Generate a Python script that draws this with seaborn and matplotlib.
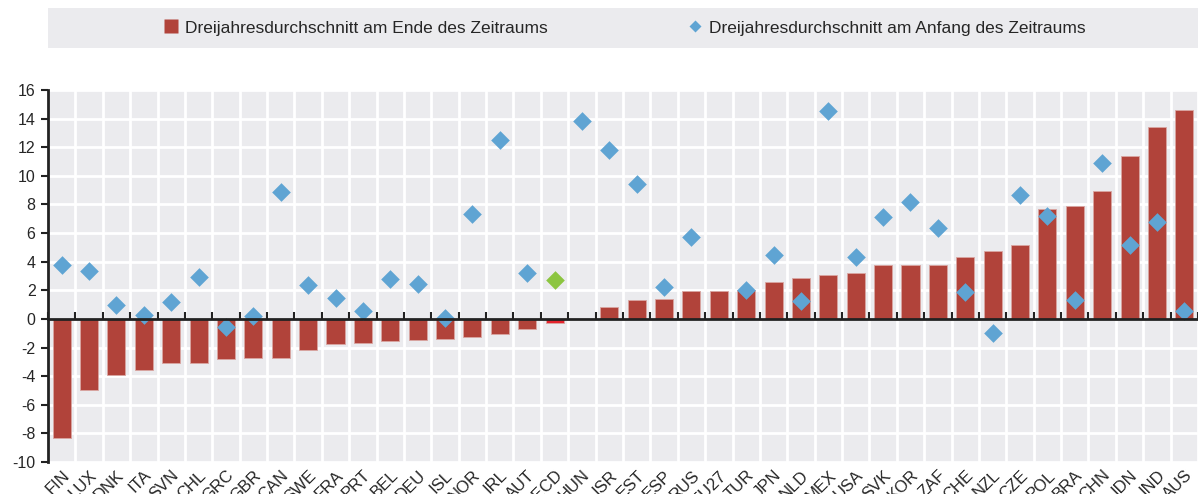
import matplotlib
matplotlib.use("Agg")
import matplotlib.pyplot as plt
import matplotlib.transforms as mtransforms
from matplotlib.patches import Rectangle
from matplotlib.lines import Line2D
import numpy as np
import pandas as pd
import seaborn as sns

countries = ["FIN", "LUX", "DNK", "ITA", "SVN", "CHL", "GRC", "GBR", "CAN", "SWE",
             "FRA", "PRT", "BEL", "DEU", "ISL", "NOR", "IRL", "AUT", "OECD", "HUN",
             "ISR", "EST", "ESP", "RUS", "EU27", "TUR", "JPN", "NLD", "MEX", "USA",
             "SVK", "KOR", "ZAF", "CHE", "NZL", "CZE", "POL", "BRA", "CHN", "IDN",
             "IND", "AUS"]

end_avg = [-8.3, -5.0, -3.9, -3.6, -3.1, -3.1, -2.8, -2.7, -2.7, -2.2,
           -1.75, -1.7, -1.55, -1.45, -1.4, -1.25, -1.05, -0.7, -0.25, np.nan,
           0.8, 1.3, 1.4, 1.95, 1.95, 2.0, 2.55, 2.85, 3.1, 3.2,
           3.75, 3.8, 3.8, 4.35, 4.75, 5.2, 7.7, 7.9, 8.95, 11.4,
           13.4, 14.6]

start_avg = [3.8, 3.35, 1.0, 0.3, 1.2, 2.9, -0.55, 0.2, 8.9, 2.4,
             1.45, 0.55, 2.8, 2.45, 0.05, 7.3, 12.5, 3.2, 2.7, 13.8,
             11.8, 9.45, 2.2, 5.7, np.nan, 2.0, 4.45, 1.25, 14.5, 4.35,
             7.15, 8.2, 6.35, 1.85, -1.0, 8.65, 7.2, 1.35, 10.9, 5.2,
             6.8, 0.55]

legend_labels = ["Dreijahresdurchschnitt am Ende des Zeitraums",
                 "Dreijahresdurchschnitt am Anfang des Zeitraums"]

BAR = "#b1433a"
BAR_OECD = "#e4232d"
DIAMOND = "#5fa4d3"
DIAMOND_OECD = "#8cc540"
BG = "#ebebee"

df = pd.DataFrame({"country": countries, "end": end_avg, "start": start_avg})
df["is_oecd"] = df["country"] == "OECD"

sns.set_theme(style="white")
plt.rcParams["font.family"] = ["Liberation Sans", "DejaVu Sans"]
plt.rcParams["axes.unicode_minus"] = False

fig = plt.figure(figsize=(11.98, 4.94), dpi=100)
ax = fig.add_axes([48 / 1198, 1 - 462 / 494, 1 - 48 / 1198, (462 - 90) / 494])
ax.set_facecolor(BG)

sns.barplot(data=df, x="country", y="end", hue="country", order=countries,
            palette=[BAR_OECD if c == "OECD" else BAR for c in countries],
            saturation=1, width=0.66, legend=False, ax=ax, zorder=3,
            edgecolor="#d9a6a2", linewidth=0.6)
sns.stripplot(data=df, x="country", y="start", hue="is_oecd", order=countries,
              palette={False: DIAMOND, True: DIAMOND_OECD}, jitter=False,
              marker="D", size=9.5, linewidth=0, legend=False, ax=ax, zorder=4)

n = len(countries)
ax.set_xlim(-0.5, n - 0.5)
ax.set_ylim(-10, 16)
ax.set_yticks(np.arange(-10, 17, 2))
ax.set_xticks(np.arange(n))
ax.set_xticklabels(countries, rotation=45, ha="right", rotation_mode="anchor",
                   fontsize=12)
shift = mtransforms.ScaledTranslation(7 / 100, 4 / 100, fig.dpi_scale_trans)
for lbl in ax.get_xticklabels():
    lbl.set_transform(lbl.get_transform() + shift)
ax.set_xticks(np.arange(n + 1) - 0.5, minor=True)
ax.tick_params(axis="x", which="both", length=0, pad=4)
ax.tick_params(axis="y", which="major", direction="out", length=5, width=1.5,
               color="#222222", labelsize=11.5, left=True, pad=4)
ax.grid(True, axis="y", color="white", linewidth=2, zorder=1)
ax.grid(True, axis="x", which="minor", color="white", linewidth=2, zorder=1)
ax.set_axisbelow(True)
ax.set_xlabel("")
ax.set_ylabel("")
for side in ["top", "right", "bottom"]:
    ax.spines[side].set_visible(False)
ax.spines["left"].set_color("#222222")
ax.spines["left"].set_linewidth(2)

# zero line with category boundary ticks
zero = ax.secondary_xaxis(10 / 26)
zero.set_xticks(np.arange(n + 1) - 0.5)
zero.set_xticklabels([])
zero.tick_params(direction="in", length=5, width=1.5, color="#222222")
zero.spines["bottom"].set_color("#222222")
zero.spines["bottom"].set_linewidth(2)
zero.set_zorder(5)

# legend box
fig.patches.append(Rectangle((48 / 1198, 1 - 48 / 494), 1 - 48 / 1198, 40 / 494,
                             transform=fig.transFigure, facecolor=BG,
                             edgecolor="none", zorder=0))
handles = [Line2D([], [], marker="s", linestyle="none", markersize=10,
                  markerfacecolor=BAR, markeredgecolor="none"),
           Line2D([], [], marker="D", linestyle="none", markersize=6.5,
                  markerfacecolor=DIAMOND, markeredgecolor="none")]
fig.legend(handles, legend_labels, ncol=2, loc="center",
           bbox_to_anchor=(624 / 1198, 1 - 28 / 494), frameon=False,
           prop={"size": 12.5}, handletextpad=0.3, columnspacing=8,
           handlelength=1.0)

fig.savefig("out.png", dpi=100)
